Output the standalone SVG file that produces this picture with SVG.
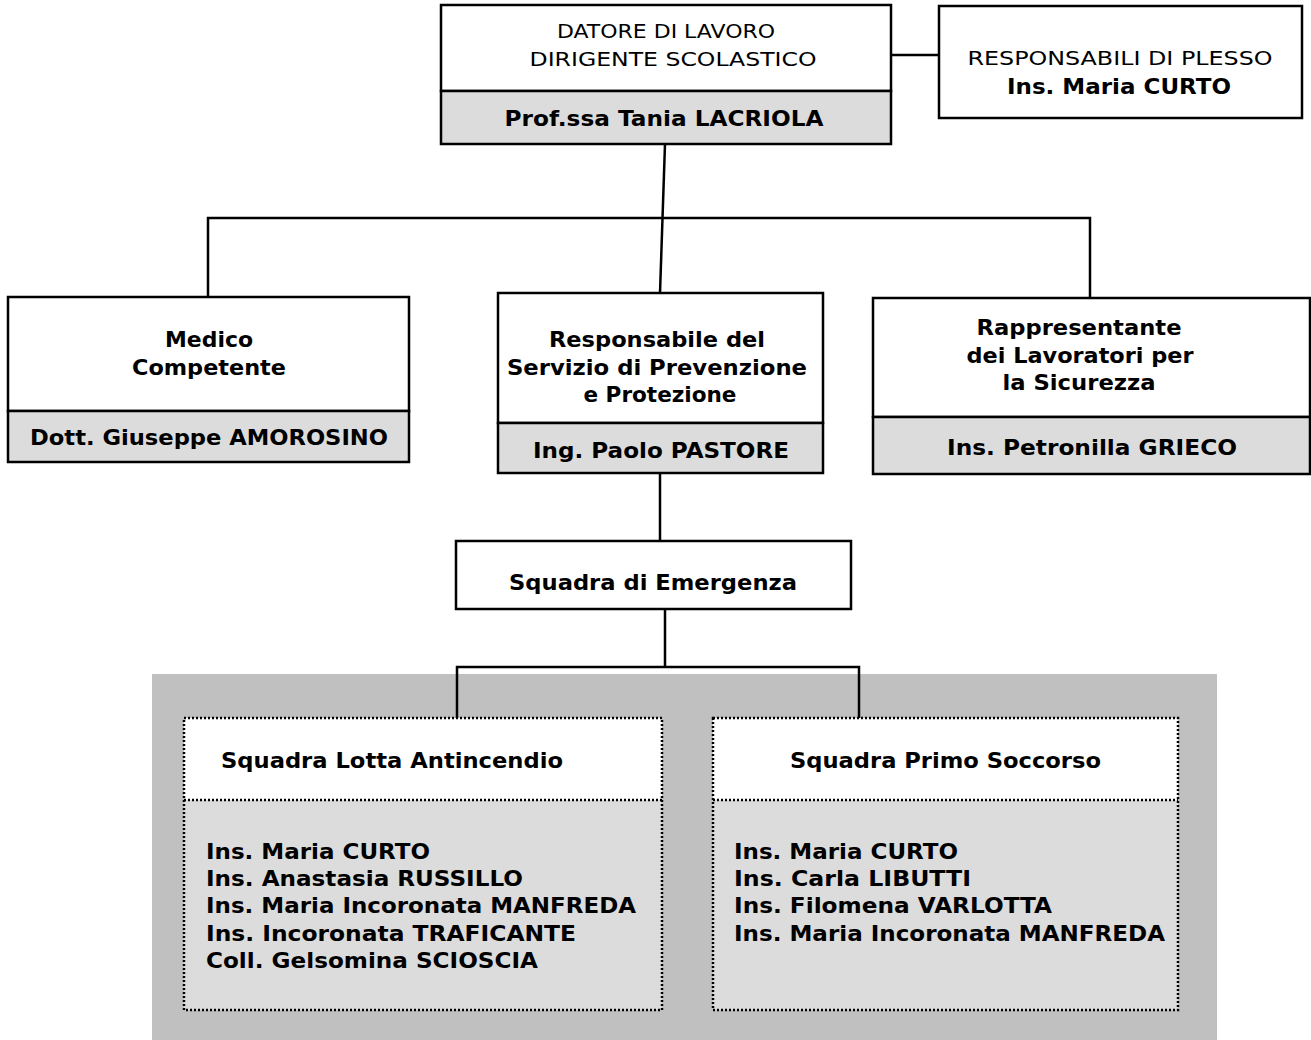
<svg xmlns="http://www.w3.org/2000/svg" width="1311" height="1040" viewBox="0 0 1311 1040">
<style>
.box{fill:#fff;stroke:#000;stroke-width:2.5}
.sub{fill:#dcdcdc;stroke:#000;stroke-width:2.5}
.dot{stroke:#000;stroke-width:2.5;stroke-dasharray:2 2;fill:none}
.con{stroke:#000;stroke-width:2.5;fill:none}
.v{font-family:"DejaVu Sans",Verdana,sans-serif;font-weight:bold;font-size:21px;text-anchor:middle}
.a{font-family:"DejaVu Sans",Verdana,sans-serif;font-size:20px;text-anchor:middle}
.t{font-family:"DejaVu Sans",Tahoma,sans-serif;font-weight:bold;font-size:22px}
</style>
<rect x="152" y="674" width="1065" height="366" fill="#c0c0c0"/>
<g id="connectors">
<line class="con" x1="891" y1="55" x2="939" y2="55"/>
<line class="con" x1="665" y1="144" x2="660" y2="293"/>
<polyline class="con" points="208,297 208,218 1090,218 1090,298"/>
<line class="con" x1="660" y1="473" x2="660" y2="541"/>
<line class="con" x1="665" y1="609" x2="665" y2="667"/>
<polyline class="con" points="457,718 457,667 859,667 859,718"/>
</g>
<g id="datore">
<rect class="box" x="441" y="5" width="450" height="86"/>
<rect class="sub" x="441" y="91" width="450" height="53"/>
<text class="a" x="666" y="38" textLength="218" lengthAdjust="spacingAndGlyphs">DATORE DI LAVORO</text>
<text class="a" x="673" y="66" textLength="287" lengthAdjust="spacingAndGlyphs">DIRIGENTE SCOLASTICO</text>
<text class="v" x="664" y="126" textLength="319" lengthAdjust="spacingAndGlyphs">Prof.ssa Tania LACRIOLA</text>
</g>
<g id="responsabili-plesso">
<rect class="box" x="939" y="6" width="363" height="112"/>
<text class="a" x="1120" y="65" textLength="305" lengthAdjust="spacingAndGlyphs">RESPONSABILI DI PLESSO</text>
<text class="v" x="1119" y="94" textLength="224" lengthAdjust="spacingAndGlyphs">Ins. Maria CURTO</text>
</g>
<g id="medico">
<rect class="box" x="8" y="297" width="401" height="114"/>
<rect class="sub" x="8" y="411" width="401" height="51"/>
<text class="v" x="209" y="347" textLength="88" lengthAdjust="spacingAndGlyphs">Medico</text>
<text class="v" x="209" y="375" textLength="154" lengthAdjust="spacingAndGlyphs">Competente</text>
<text class="v" x="209" y="445" textLength="358" lengthAdjust="spacingAndGlyphs">Dott. Giuseppe AMOROSINO</text>
</g>
<g id="rspp">
<rect class="box" x="498" y="293" width="325" height="130"/>
<rect class="sub" x="498" y="423" width="325" height="50"/>
<text class="v" x="657" y="347" textLength="216" lengthAdjust="spacingAndGlyphs">Responsabile del</text>
<text class="v" x="657" y="375" textLength="300" lengthAdjust="spacingAndGlyphs">Servizio di Prevenzione</text>
<text class="v" x="660" y="402" textLength="153" lengthAdjust="spacingAndGlyphs">e Protezione</text>
<text class="v" x="661" y="458" textLength="256" lengthAdjust="spacingAndGlyphs">Ing. Paolo PASTORE</text>
</g>
<g id="rls">
<rect class="box" x="873" y="298" width="437" height="119"/>
<rect class="sub" x="873" y="417" width="437" height="57"/>
<text class="v" x="1079" y="335" textLength="205" lengthAdjust="spacingAndGlyphs">Rappresentante</text>
<text class="v" x="1080" y="363" textLength="227" lengthAdjust="spacingAndGlyphs">dei Lavoratori per</text>
<text class="v" x="1079" y="390" textLength="153" lengthAdjust="spacingAndGlyphs">la Sicurezza</text>
<text class="v" x="1092" y="455" textLength="290" lengthAdjust="spacingAndGlyphs">Ins. Petronilla GRIECO</text>
</g>
<g id="emergenza">
<rect class="box" x="456" y="541" width="395" height="68"/>
<text class="v" x="653" y="590" textLength="288" lengthAdjust="spacingAndGlyphs">Squadra di Emergenza</text>
</g>
<g id="antincendio">
<rect x="184" y="718" width="478" height="82" fill="#fff"/>
<rect x="184" y="800" width="478" height="210" fill="#dcdcdc"/>
<rect class="dot" x="184" y="718" width="478" height="292"/>
<line class="dot" x1="184" y1="800" x2="662" y2="800"/>
<text class="t" x="221" y="768" textLength="342" lengthAdjust="spacingAndGlyphs">Squadra Lotta Antincendio</text>
<text class="t" x="206" y="859" textLength="224" lengthAdjust="spacingAndGlyphs">Ins. Maria CURTO</text>
<text class="t" x="206" y="886" textLength="317" lengthAdjust="spacingAndGlyphs">Ins. Anastasia RUSSILLO</text>
<text class="t" x="206" y="913" textLength="430" lengthAdjust="spacingAndGlyphs">Ins. Maria Incoronata MANFREDA</text>
<text class="t" x="206" y="941" textLength="370" lengthAdjust="spacingAndGlyphs">Ins. Incoronata TRAFICANTE</text>
<text class="t" x="206" y="968" textLength="332" lengthAdjust="spacingAndGlyphs">Coll. Gelsomina SCIOSCIA</text>
</g>
<g id="primo-soccorso">
<rect x="713" y="718" width="465" height="82" fill="#fff"/>
<rect x="713" y="800" width="465" height="210" fill="#dcdcdc"/>
<rect class="dot" x="713" y="718" width="465" height="292"/>
<line class="dot" x1="713" y1="800" x2="1178" y2="800"/>
<text class="t" x="790" y="768" textLength="311" lengthAdjust="spacingAndGlyphs">Squadra Primo Soccorso</text>
<text class="t" x="734" y="859" textLength="224" lengthAdjust="spacingAndGlyphs">Ins. Maria CURTO</text>
<text class="t" x="734" y="886" textLength="237" lengthAdjust="spacingAndGlyphs">Ins. Carla LIBUTTI</text>
<text class="t" x="734" y="913" textLength="318" lengthAdjust="spacingAndGlyphs">Ins. Filomena VARLOTTA</text>
<text class="t" x="734" y="941" textLength="431" lengthAdjust="spacingAndGlyphs">Ins. Maria Incoronata MANFREDA</text>
</g>
</svg>
